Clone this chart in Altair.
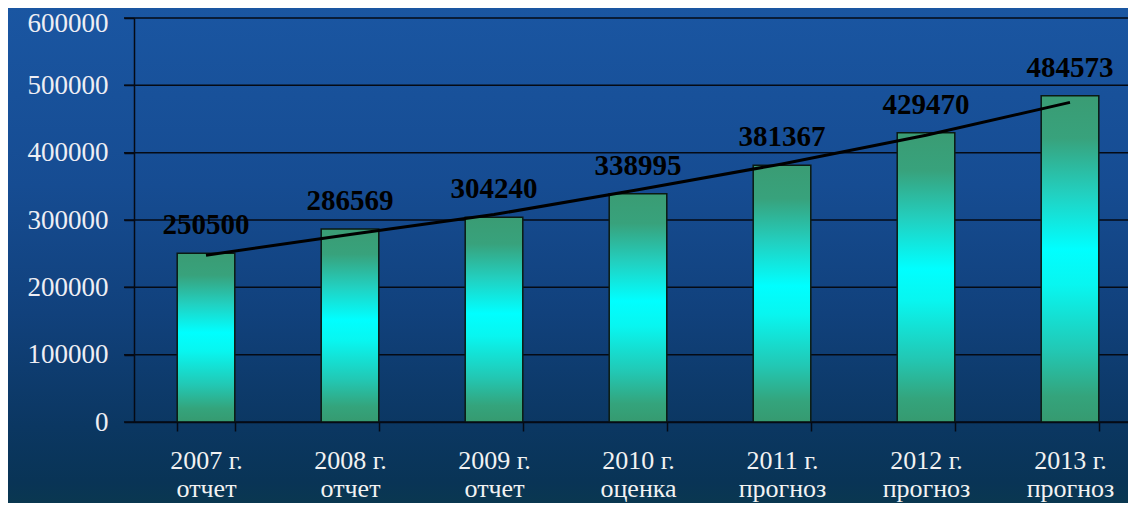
import altair as alt
import pandas as pd

categories = ["2007 г.|отчет", "2008 г.|отчет", "2009 г.|отчет", "2010 г.|оценка",
              "2011 г.|прогноз", "2012 г.|прогноз", "2013 г.|прогноз"]
values = [250500, 286569, 304240, 338995, 381367, 429470, 484573]
trend = [247700, 278600, 308100, 345000, 383300, 426000, 474700]
y_ticks = [0, 100000, 200000, 300000, 400000, 500000, 600000]

df = pd.DataFrame({"cat": categories, "value": values, "trend": trend})
grid_df = pd.DataFrame({"tick": y_ticks})
bg_df = pd.DataFrame({"k": [0]})

W, H = 994, 404
xscale = alt.Scale(domain=categories, range=[0, 1008], paddingInner=0.6, paddingOuter=0.3)
yscale = alt.Scale(domain=[0, 600000], nice=False)

y_axis = alt.Axis(values=y_ticks, format="d", grid=False,
                  labelFont="Liberation Serif", labelFontSize=27,
                  labelColor="#eeeef4", labelPadding=16,
                  labelOffset={"condition": {"test": "datum.value >= 600000", "value": 5},
                               "value": 0},
                  tickSize=10, tickColor="#050a14", tickWidth=1.5,
                  domainColor="#050a14", domainWidth=1.5, zindex=1)

x_axis = alt.Axis(labelExpr="isValid(datum.value) ? split(datum.value, '|') : ''",
                  labelAngle=0,
                  labelFont="Liberation Serif", labelFontSize=26,
                  labelColor="#f2f2f2", labelLineHeight=28,
                  labelPadding=16, tickSize=9, tickColor="#050a14",
                  tickWidth=1.5, domainColor="#050a14", domainWidth=1.5,
                  tickBand="extent", zindex=1)

bg = alt.Chart(bg_df).mark_rect(
    color=alt.Gradient(
        gradient="linear", x1=0, x2=0, y1=0, y2=1,
        stops=[
            alt.GradientStop(offset=0, color="#1a56a2"),
            alt.GradientStop(offset=0.35, color="#164c92"),
            alt.GradientStop(offset=0.6, color="#11417c"),
            alt.GradientStop(offset=0.82, color="#0b3762"),
            alt.GradientStop(offset=0.93, color="#093456"),
            alt.GradientStop(offset=1, color="#0a3a4c"),
        ],
    )
).encode(
    x=alt.value(-130), x2=alt.value(1010), y=alt.value(-12), y2=alt.value(500)
)

grid = alt.Chart(grid_df).mark_rule(color="#050a14", strokeWidth=1.5).encode(
    y=alt.Y("tick:Q", scale=yscale, title=None, axis=y_axis),
    x=alt.value(-10), x2=alt.value(1010),
)

bars = alt.Chart(df).mark_bar(
    color=alt.Gradient(
        gradient="linear", x1=0, x2=0, y1=0, y2=1,
        stops=[
            alt.GradientStop(offset=0, color="#3a9c74"),
            alt.GradientStop(offset=0.13, color="#38a27c"),
            alt.GradientStop(offset=0.3, color="#22d0c0"),
            alt.GradientStop(offset=0.47, color="#00ffff"),
            alt.GradientStop(offset=0.58, color="#08f6f0"),
            alt.GradientStop(offset=0.78, color="#22c8b4"),
            alt.GradientStop(offset=0.92, color="#34a47c"),
            alt.GradientStop(offset=1, color="#369a70"),
        ],
    ),
    stroke="#0b1a12", strokeWidth=1.5,
).encode(
    x=alt.X("cat:N", scale=xscale, sort=categories, title=None, axis=x_axis),
    y=alt.Y("value:Q", scale=yscale, title=None, axis=y_axis),
)

labels = alt.Chart(df).mark_text(
    baseline="bottom", dy=-13, font="Liberation Serif", fontWeight="bold",
    fontSize=29, color="#000000",
).encode(
    x=alt.X("cat:N", scale=xscale, sort=categories),
    y=alt.Y("value:Q", scale=yscale),
    text=alt.Text("value:Q", format="d"),
)

line = alt.Chart(df).mark_line(color="#000000", strokeWidth=3).encode(
    x=alt.X("cat:N", scale=xscale, sort=categories),
    y=alt.Y("trend:Q", scale=yscale),
)

chart = alt.layer(bg, grid, bars, line, labels).properties(
    width=W, height=H,
    autosize=alt.AutoSizeParams(type="none"),
    padding={"left": 126, "top": 10, "right": 0, "bottom": 81},
    background="#0d3f78",
).configure_view(stroke=None)

chart.save("out.html", embed_options={"renderer": "svg", "actions": False})
